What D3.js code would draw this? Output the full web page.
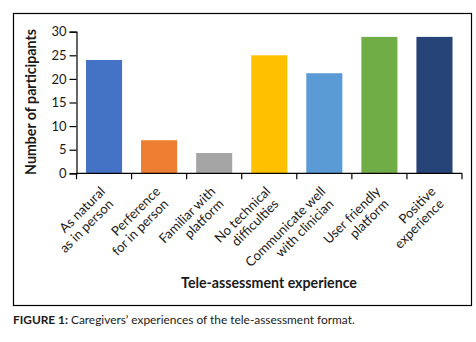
<!DOCTYPE html>
<html lang="en">
<head>
    <meta charset="UTF-8">
    <title>Tele-assessment experience</title>
    <script src="https://cdn.jsdelivr.net/npm/d3@7"></script>
    <style>
        body { margin: 0; background: #fff; }
        text { font-family: Lato, "Open Sans", sans-serif; fill: #1a1a1a; }
    </style>
</head>
<body>
    <div id="chart"></div>
    <script>
           // data
           var categories = [
               ["As natural", "as in person"],
               ["Perference", "for in person"],
               ["Familiar with", "platform"],
               ["No technical", "difficulties"],
               ["Communicate well", "with clinician"],
               ["User friendly", "platform"],
               ["Positive", "experience"]
           ];
           var values = [24, 7, 4.3, 25, 21.2, 28.9, 28.9];
           var colors = ["#4472C4", "#ED7D31", "#A5A5A5", "#FFC000", "#5B9BD5", "#70AD47", "#264478"];
           var yTicks = [0, 5, 10, 15, 20, 25, 30];

           var width = 476, height = 342;
           var plot = { left: 76.5, right: 462, top: 31.7, bottom: 173.3 };

           var svg = d3.select("#chart").append("svg")
                   .attr("width", width).attr("height", height);

           // outer frame
           svg.append("rect")
                   .attr("x", 13.5).attr("y", 13.5)
                   .attr("width", 458).attr("height", 292)
                   .attr("fill", "none").attr("stroke", "#000").attr("stroke-width", 1.2);

           var xScale = d3.scaleBand()
                   .domain(d3.range(categories.length))
                   .range([plot.left, plot.right])
                   .paddingInner(0.345).paddingOuter(0.1725);
           var yScale = d3.scaleLinear().domain([0, 30]).range([plot.bottom, plot.top]);

           // bars
           svg.selectAll("rect.bar").data(values).enter().append("rect")
                   .attr("class", "bar")
                   .attr("x", function (d, i) { return xScale(i); })
                   .attr("width", xScale.bandwidth())
                   .attr("y", function (d) { return yScale(d); })
                   .attr("height", function (d) { return plot.bottom - yScale(d); })
                   .attr("fill", function (d, i) { return colors[i]; });

           // y axis
           var yAxis = d3.axisLeft(yScale).tickValues(yTicks).tickSize(7).tickPadding(3);
           var gy = svg.append("g").attr("transform", "translate(" + plot.left + ",0)").call(yAxis);
           gy.selectAll("text").style("font-size", "13px").attr("fill", "#1a1a1a");

           // x axis line and ticks between categories
           var step = xScale.step();
           var gx = svg.append("g");
           gx.append("line")
                   .attr("x1", plot.left).attr("x2", plot.right)
                   .attr("y1", plot.bottom).attr("y2", plot.bottom)
                   .attr("stroke", "#000").attr("stroke-width", 1.2);
           gx.selectAll("line.tick").data(d3.range(categories.length + 1)).enter().append("line")
                   .attr("class", "tick")
                   .attr("x1", function (d) { return plot.left + d * step; })
                   .attr("x2", function (d) { return plot.left + d * step; })
                   .attr("y1", plot.bottom).attr("y2", plot.bottom + 6)
                   .attr("stroke", "#000").attr("stroke-width", 1.2);
           gy.selectAll("path, line").attr("stroke", "#000").attr("stroke-width", 1.2);

           // rotated category labels
           var labels = svg.selectAll("g.lab").data(categories).enter().append("g")
                   .attr("class", "lab")
                   .attr("transform", function (d, i) {
                       return "translate(" + (xScale(i) + xScale.bandwidth() / 2 + 2) + "," + (plot.bottom + 19) + ") rotate(-45)";
                   });
           labels.selectAll("text").data(function (d) { return d; }).enter().append("text")
                   .attr("text-anchor", "end")
                   .attr("x", function (d, j) { return j * -3; })
                   .attr("y", function (d, j) { return j * 14.5; })
                   .style("font-size", "13.2px")
                   .text(function (d) { return d; });

           // axis titles
           svg.append("text")
                   .attr("transform", "translate(36,102) rotate(-90)")
                   .attr("text-anchor", "middle")
                   .style("font-size", "14.2px").style("font-weight", "bold")
                   .text("Number of participants");
           svg.append("text")
                   .attr("x", 269).attr("y", 288)
                   .attr("text-anchor", "middle")
                   .style("font-size", "14.2px").style("font-weight", "bold")
                   .text("Tele-assessment experience");

           // caption
           var cap = svg.append("text").attr("x", 13).attr("y", 324).style("font-size", "11.9px");
           cap.append("tspan").style("font-weight", "bold").text("FIGURE 1: ");
           cap.append("tspan").text("Caregivers\u2019 experiences of the tele-assessment format.");
    </script>
</body>
</html>
